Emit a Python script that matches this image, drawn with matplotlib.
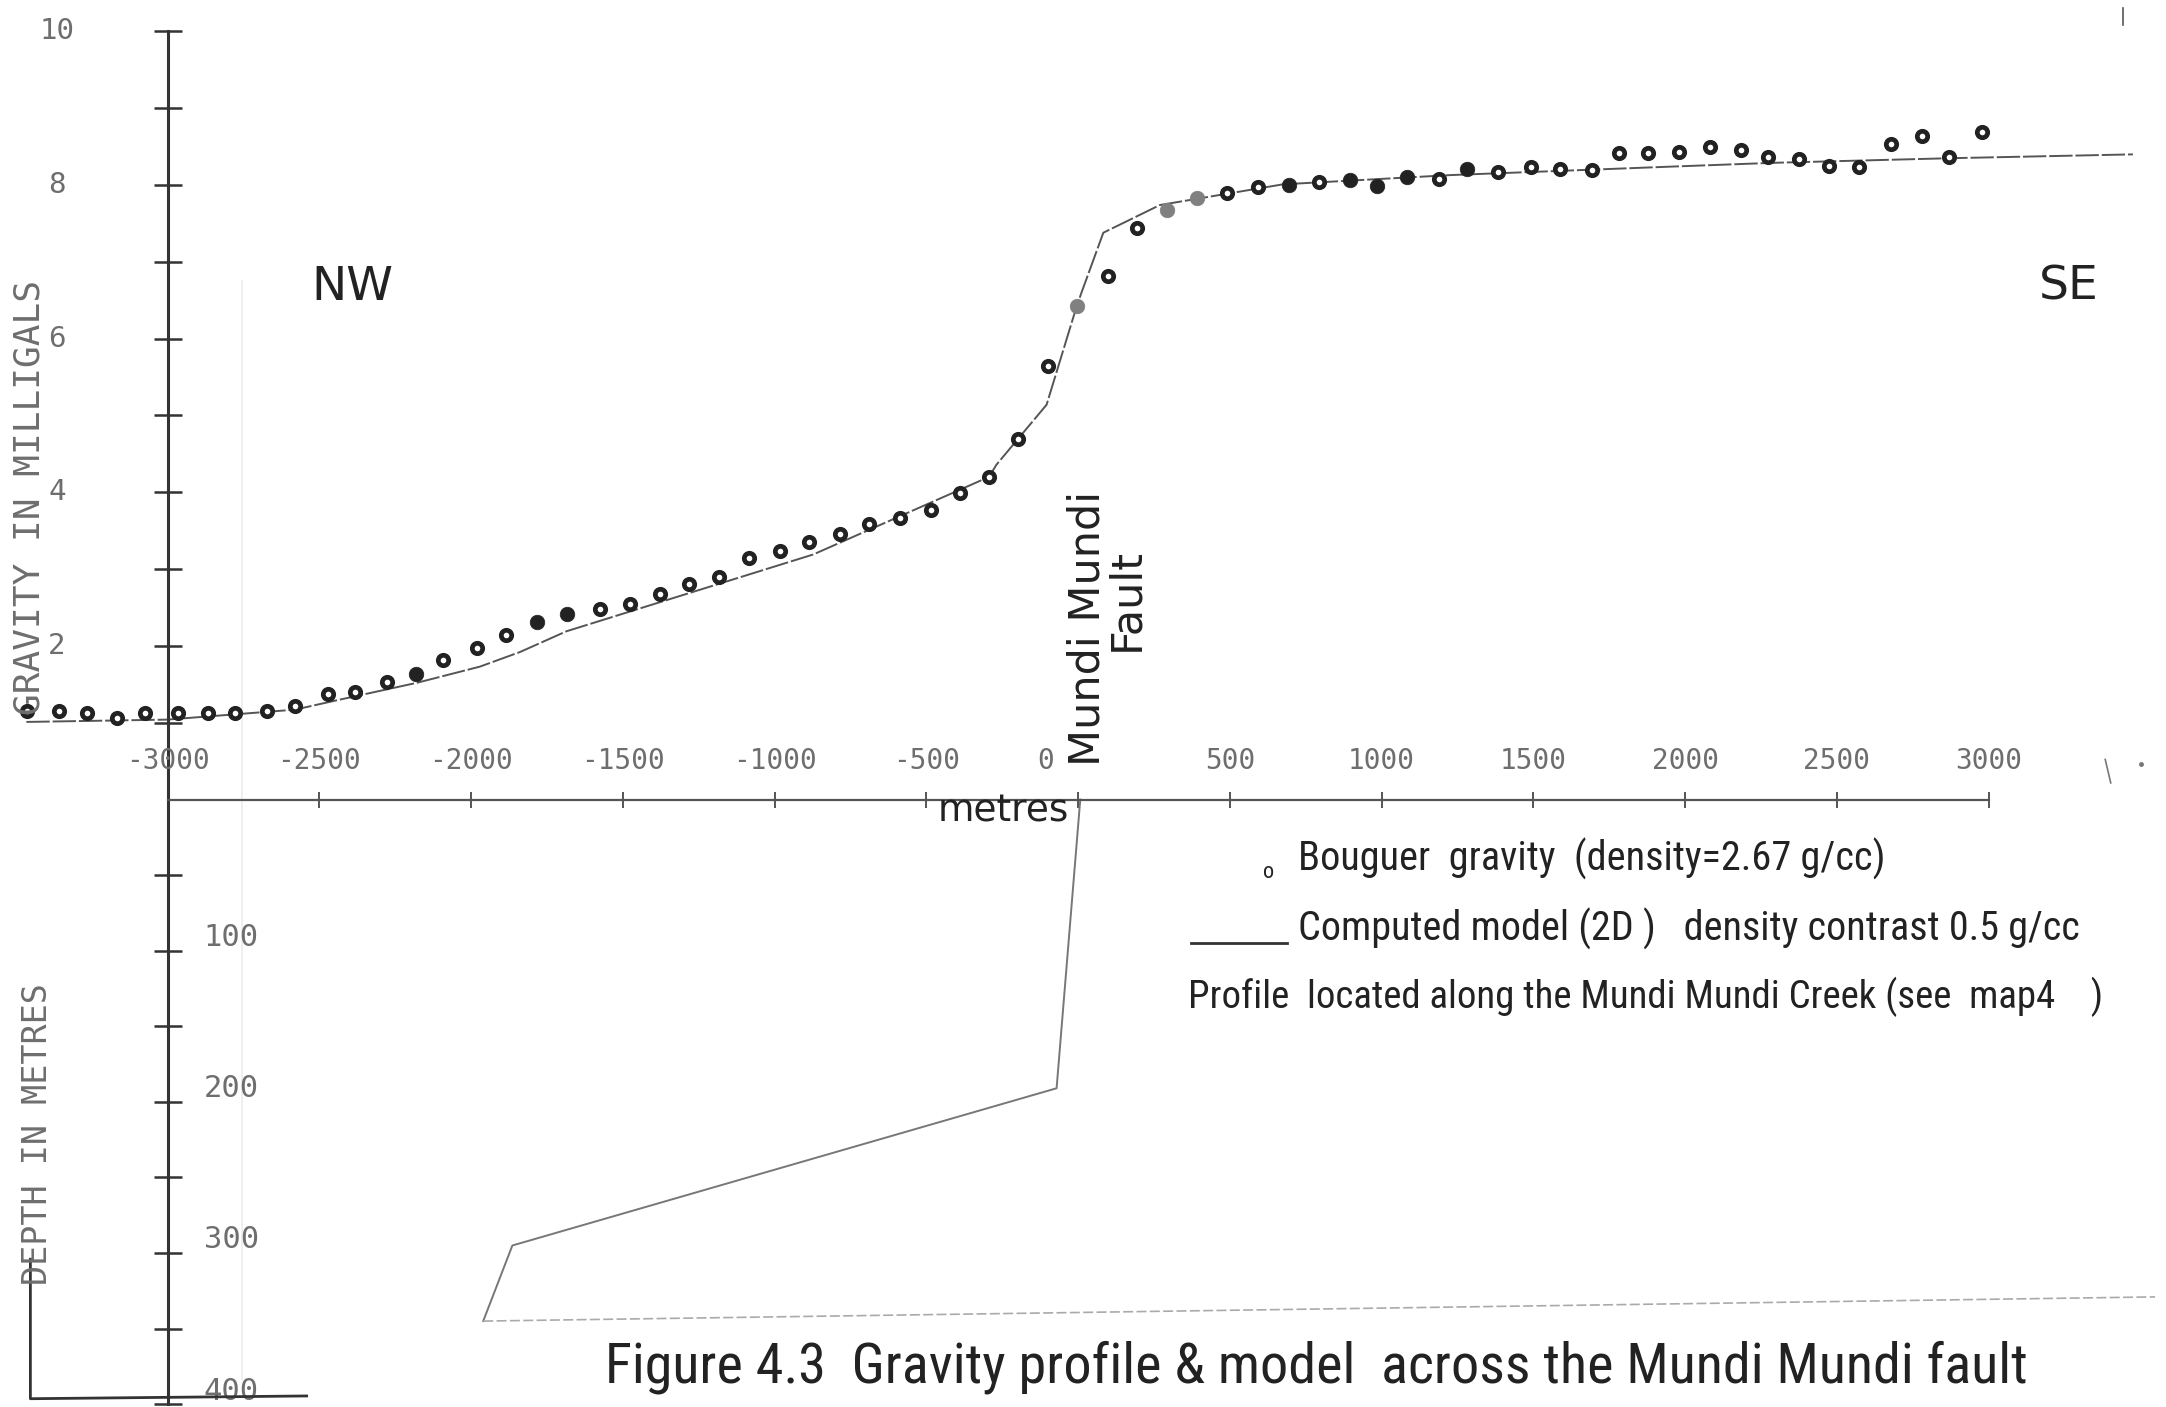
import matplotlib
matplotlib.use("Agg")
import matplotlib.pyplot as plt
from matplotlib.lines import Line2D

# Bouguer gravity stations: distance from the fault (m) and gravity (mGal)
station_x = [-3464, -3357, -3266, -3166, -3075, -2966, -2866, -2779, -2674, -2579,
             -2470, -2383, -2278, -2183, -2092, -1980, -1885, -1782, -1683, -1574,
             -1477, -1378, -1281, -1183, -1084, -983, -886, -785, -690, -587,
             -486, -389, -294, -199, -98, -3, 97, 193, 294, 392,
             491, 592, 695, 792, 894, 984, 1084, 1189, 1280, 1384,
             1491, 1587, 1692, 1783, 1878, 1980, 2082, 2184, 2274, 2375,
             2475, 2574, 2677, 2779, 2870, 2977]
bouguer_g = [1.15, 1.15, 1.13, 1.06, 1.13, 1.13, 1.13, 1.13, 1.15, 1.22,
             1.38, 1.40, 1.53, 1.64, 1.82, 1.97, 2.14, 2.31, 2.41, 2.48,
             2.54, 2.67, 2.81, 2.90, 3.14, 3.23, 3.35, 3.46, 3.59, 3.66,
             3.77, 3.99, 4.20, 4.69, 5.65, 6.42, 6.82, 7.44, 7.68, 7.83,
             7.90, 7.97, 8.00, 8.04, 8.07, 7.99, 8.10, 8.08, 8.21, 8.17,
             8.24, 8.21, 8.20, 8.42, 8.42, 8.43, 8.50, 8.46, 8.37, 8.34,
             8.25, 8.23, 8.53, 8.64, 8.37, 8.69]
# how each dot was inked on the plot: o = ring, f = filled, g = grey
station_kind = "ooooooooooooofoooffoooooooooooooooogoogg" + "oofofffof" + "o" * 19

# computed 2D model curve (mGal)
model_x = [-3465, -3002, -2580, -2456, -2178, -1971, -1839, -1686, -873, -294,
           -269, -104, -5, 11, 83, 171, 269, 675, 1225, 1950, 2290, 2873, 3475]
model_g = [1.01, 1.04, 1.17, 1.28, 1.52, 1.73, 1.92, 2.19, 3.19, 4.20,
           4.36, 5.14, 6.42, 6.60, 7.38, 7.55, 7.74, 8.01, 8.13, 8.24, 8.29, 8.35, 8.40]

# model body outline: distance (m) and depth (m)
body_x = [7, -71, -1864, -1960, 3548]
body_depth = [0, 191, 295, 345, 329]

x_ticks = list(range(-3000, 3001, 500))
g_ticks = list(range(1, 11))
g_labels = [10, 8, 6, 4, 2]
depth_ticks = list(range(50, 401, 50))
depth_labels = [100, 200, 300, 400]

M_PER_UNIT = 50.8   # metres of depth per mGal of paper
W, H = 1568.0, 1019.0
K = 2166.0 / W
MONO = "DejaVu Sans Mono"
HAND = ["Roboto Condensed", "Roboto", "DejaVu Sans"]
GREY = "#6e6e6e"
INK = "#222222"


def fx(px):
    return px / W


def fy(py):
    return 1 - py / H


fig = plt.figure(figsize=(21.66, 14.07), dpi=100)
ax = fig.add_axes([0, 0, 1, 1])
ax.set_xlim(-3552, 3584)
ax.set_ylim(-7.91, 10.41)

for s in ["top", "right"]:
    ax.spines[s].set_visible(False)
ax.spines["left"].set_position(("data", -3000))
ax.spines["left"].set_bounds(-400 / M_PER_UNIT, 10)
ax.spines["left"].set_linewidth(2.2)
ax.spines["left"].set_color("#333333")
ax.spines["bottom"].set_position(("data", 0))
ax.spines["bottom"].set_bounds(-3000, 3000)
ax.spines["bottom"].set_linewidth(1.6)
ax.spines["bottom"].set_color("#555555")
ax.set_yticks(g_ticks + [-d / M_PER_UNIT for d in depth_ticks])
ax.set_xticks(x_ticks)
ax.tick_params(axis="y", direction="inout", length=20, width=1.8, color="#333333",
               labelleft=False)
ax.tick_params(axis="x", direction="inout", length=12, width=1.4, color="#555555",
               labelbottom=False)

# faint scanner streak
ax.axvline(-2756, ymin=0.02, ymax=0.8, color="#ececec", lw=1.2, zorder=0)

# model body
ax.plot(body_x[:4], [-d / M_PER_UNIT for d in body_depth[:4]], color="#777777", lw=1.4)
ax.plot(body_x[3:], [-d / M_PER_UNIT for d in body_depth[3:]], color="#aaaaaa", lw=1.2,
        linestyle=(0, (6, 2)))

# computed model
ax.plot(model_x, model_g, color="#555555", lw=1.4, linestyle=(0, (12, 1.5)), zorder=2)

# observed stations
for kind, face, ms, mew, ec in [("o", "white", 7.5, 3.4, INK),
                                ("f", INK, 10.5, 0.5, INK),
                                ("g", "#808080", 10.5, 0.5, "#808080")]:
    xs = [x for x, k in zip(station_x, station_kind) if k == kind]
    gs = [g for g, k in zip(bouguer_g, station_kind) if k == kind]
    ax.plot(xs, gs, linestyle="none", marker="o", ms=ms, mew=mew, mfc=face, mec=ec, zorder=3)

# axis numbers (the 0 was written left of its tick to clear the fault label)
for t in x_ticks:
    xpos = t - 107 if t == 0 else t
    ax.text(xpos, 0.5, "%d" % t, ha="center", va="center", family=MONO, fontsize=20,
            color=GREY)
for g in g_labels:
    ax.text(-3365, g, "%d" % g, ha="center", va="center", family=MONO, fontsize=21, color=GREY)
for d in depth_labels:
    ax.text(-2790, -d / M_PER_UNIT + 0.17, "%d" % d, ha="center", va="center", family=MONO,
            fontsize=22, color=GREY)

fig.text(fx(21), fy(360), "GRAVITY IN MILLIGALS", rotation=90, ha="center", va="center",
         family=MONO, fontsize=26, color=GREY)
fig.text(fx(27), fy(821), "DEPTH IN METRES", rotation=90, ha="center", va="center",
         family=MONO, fontsize=24, color=GREY)
fig.add_artist(Line2D([fx(22), fx(22), fx(222)], [fy(912), fy(1013), fy(1011)],
                      color="#333333", lw=2.0))

# stray pen marks on the sheet
fig.add_artist(Line2D([fx(1537), fx(1537)], [fy(6), fy(18)], color="#555555", lw=1.2))
fig.add_artist(Line2D([fx(1524), fx(1528)], [fy(550), fy(567)], color="#777777", lw=1.2))
fig.add_artist(Line2D([fx(1550)], [fy(553)], color="#777777", marker="o", ms=2.5, lw=0))

fig.text(fx(255), fy(208), "NW", ha="center", va="center", fontsize=34, color=INK)
fig.text(fx(1498), fy(208), "SE", ha="center", va="center", fontsize=34, color=INK)
fig.text(fx(726), fy(588), "metres", ha="center", va="center", fontsize=27, color=INK)
fig.text(fx(787), fy(455), "Mundi Mundi", rotation=90, ha="center", va="center",
         fontsize=31, color=INK)
fig.text(fx(815), fy(434), "Fault", rotation=90, ha="center", va="center",
         fontsize=31, color=INK)

# legend and caption, sized to the width they take in the figure
renderer = fig.canvas.get_renderer()


def fitted(px, py, s, width, size):
    t = fig.text(fx(px), fy(py), s, ha="left", va="center", family=HAND, fontsize=size,
                 color=INK)
    w = t.get_window_extent(renderer).width
    t.set_fontsize(size * width * K / w)
    return t


fig.text(fx(918), fy(632), "o", ha="center", va="center", family=HAND, fontsize=16, color=INK)
fitted(940, 622, "Bouguer  gravity  (density=2.67 g/cc)", 425, 26)
fig.add_artist(Line2D([fx(862), fx(932)], [fy(683), fy(683)], color="#333333", lw=2.0))
fitted(940, 673, "Computed model (2D )   density contrast 0.5 g/cc", 565, 26)
fitted(860, 722, "Profile  located along the Mundi Mundi Creek (see  map4    )", 665, 25)
fitted(438, 990, "Figure 4.3  Gravity profile & model  across the Mundi Mundi fault", 1032, 36)

fig.savefig("out.png", dpi=100)
